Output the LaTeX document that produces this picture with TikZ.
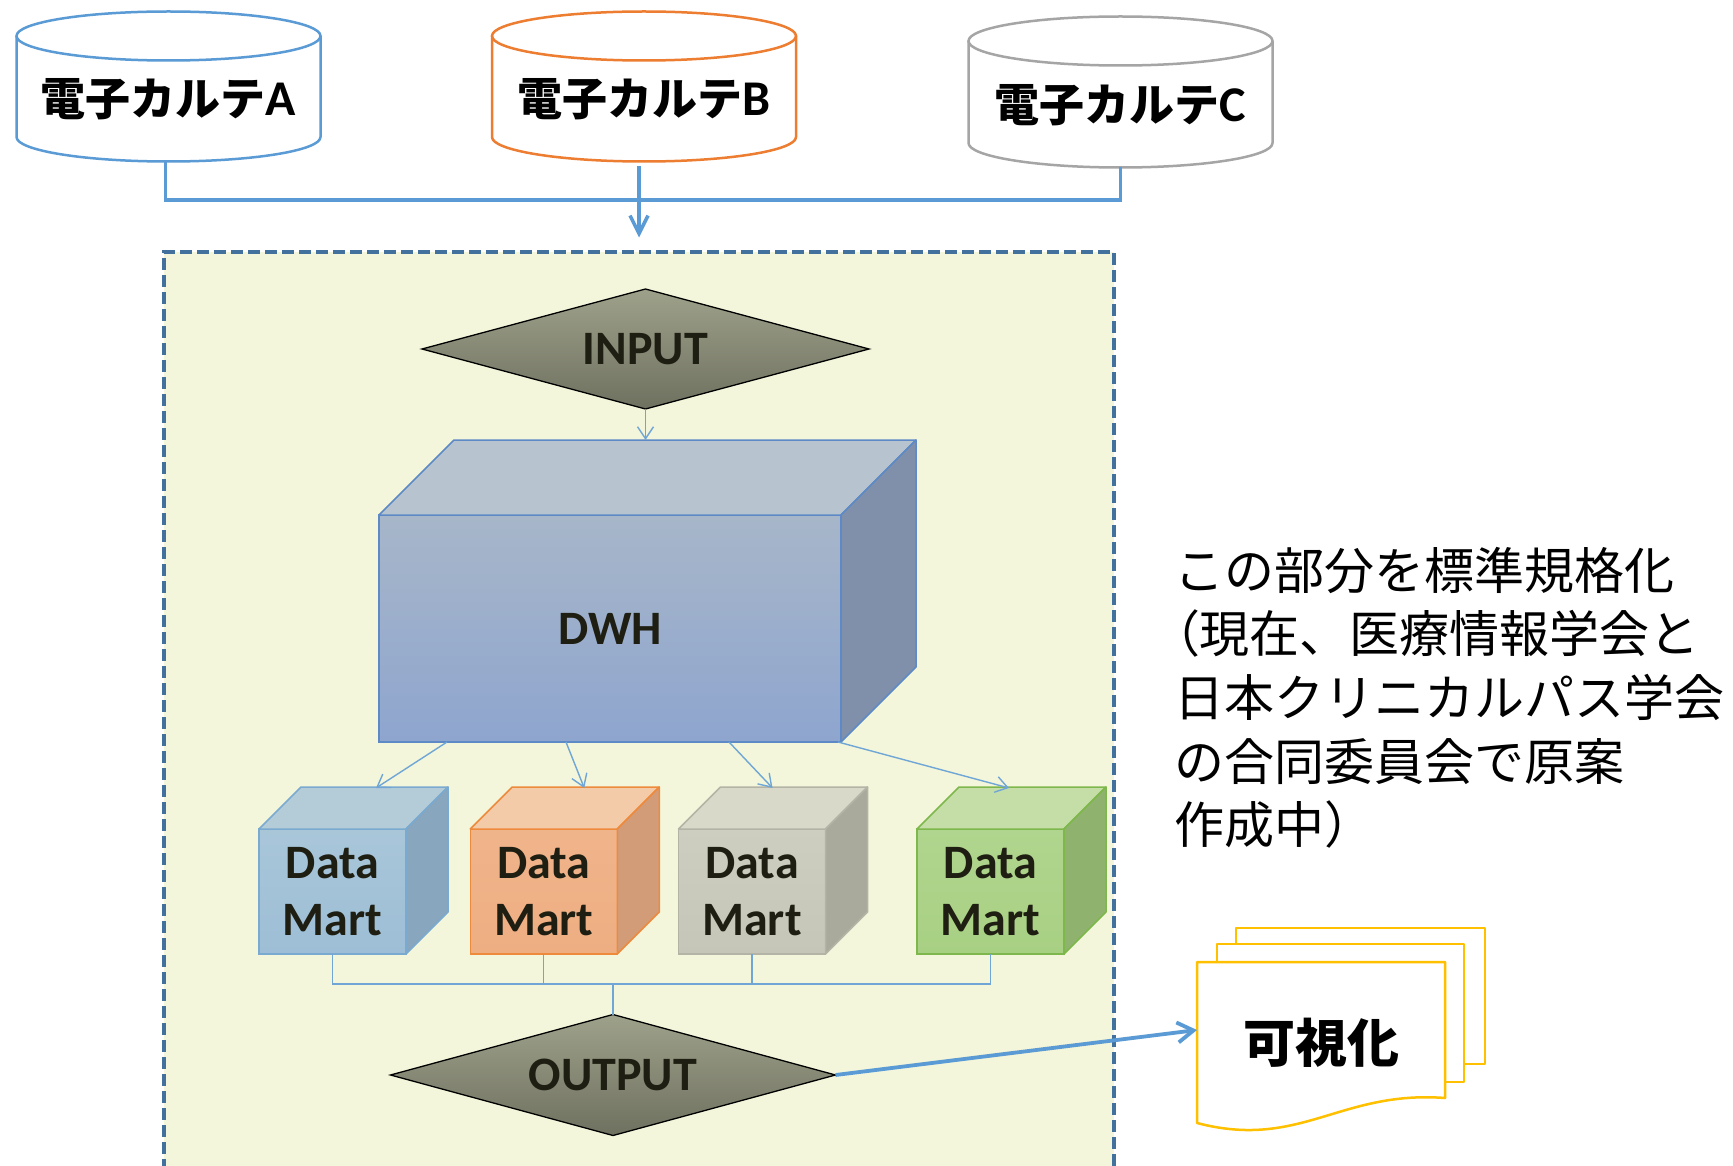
\documentclass[tikz,border=0pt]{standalone}
\usepackage{fontspec}
\setmainfont{Carlito}
\newfontfamily\jpfont{Noto Sans CJK JP}
\usetikzlibrary{arrows.meta,shapes.geometric,calc}

\definecolor{ink}{HTML}{1E1E12}
\definecolor{emrblue}{HTML}{5B9BD5}
\definecolor{emrorange}{HTML}{ED7D31}
\definecolor{emrgray}{HTML}{A5A5A5}
\definecolor{frameblue}{HTML}{41719C}
\definecolor{framefill}{HTML}{F3F6DA}
\definecolor{flowblue}{HTML}{5B9BD5}
\definecolor{thinblue}{HTML}{6FA6D6}
\definecolor{dwhtop}{HTML}{B7C4CF}
\definecolor{dwhfa}{HTML}{A7B6C9}
\definecolor{dwhfb}{HTML}{8EA5CE}
\definecolor{dwhside}{HTML}{8190AA}
\definecolor{dwhedge}{HTML}{5D8AC6}
\definecolor{dmAtop}{HTML}{B4CCD8}
\definecolor{dmAfa}{HTML}{A9C6D9}
\definecolor{dmAfb}{HTML}{9DBED6}
\definecolor{dmAside}{HTML}{88A6BD}
\definecolor{dmAedge}{HTML}{7AAAD0}
\definecolor{dmBtop}{HTML}{F3CBA9}
\definecolor{dmBfa}{HTML}{F0B48B}
\definecolor{dmBfb}{HTML}{EEAE82}
\definecolor{dmBside}{HTML}{D29C79}
\definecolor{dmBedge}{HTML}{EE8A3C}
\definecolor{dmCtop}{HTML}{D8D9C9}
\definecolor{dmCfa}{HTML}{CDCDC0}
\definecolor{dmCfb}{HTML}{C6C6B8}
\definecolor{dmCside}{HTML}{A9A99C}
\definecolor{dmCedge}{HTML}{B3B3A6}
\definecolor{dmDtop}{HTML}{C5DEA7}
\definecolor{dmDfa}{HTML}{B0D58E}
\definecolor{dmDfb}{HTML}{A8D083}
\definecolor{dmDside}{HTML}{90B26F}
\definecolor{dmDedge}{HTML}{7EB74B}
\definecolor{diaA}{HTML}{9EA18A}
\definecolor{diaB}{HTML}{6F7160}
\definecolor{docgold}{HTML}{FFC000}

% database cylinder: name, centre x, top ellipse centre y, bottom ellipse centre y, colour
\newcommand\dbcyl[5]{%
  \node[minimum width=304, minimum height={#4-#3+49}] (#1) at (#2, {(#3+#4)/2}) {};
  \fill[white] (#2-152, #3) -- (#2-152, #4)
    arc[start angle=180, end angle=360, x radius=152pt, y radius=24.5pt] -- (#2+152, #3) -- cycle;
  \draw[draw=#5, line width=2.5] (#2-152, #3) -- (#2-152, #4)
    arc[start angle=180, end angle=360, x radius=152pt, y radius=24.5pt] -- (#2+152, #3);
  \draw[draw=#5, line width=2.5] (#2, #3) ellipse [x radius=152pt, y radius=24.5pt];
}
% top and side faces of a box whose front face is node #1
\newcommand\boxfaces[5]{%
  \filldraw[fill=#3, draw=#5, line width=1.5, line join=round]
    (#1.north west) -- ++(#2,-#2) -- ([shift={(#2,-#2)}]#1.north east) -- (#1.north east) -- cycle;
  \filldraw[fill=#4, draw=#5, line width=1.5, line join=round]
    (#1.north east) -- ++(#2,-#2) -- ([shift={(#2,-#2)}]#1.south east) -- (#1.south east) -- cycle;
}

\begin{document}
\begin{tikzpicture}[x=1pt, y=-1pt,
  every node/.style={inner sep=0pt, outer sep=0pt},
  emrlabel/.style={font=\jpfont\bfseries\fontsize{45}{54}\selectfont, text=black},
  feed/.style={draw=flowblue, line width=3.5},
  feedarrow/.style={feed, -{Straight Barb[length=18pt, width=18pt]}},
  thinflow/.style={draw=thinblue, line width=1.4, -{Straight Barb[length=12pt, width=16pt]}},
  thinlink/.style={draw=thinblue, line width=1.4},
  outarrow/.style={draw=flowblue, line width=3.8, -{Straight Barb[length=16pt, width=20pt]}},
  gate/.style={diamond, draw=black, line width=1.3, top color=diaA, bottom color=diaB,
    font=\bfseries\fontsize{48}{57}\selectfont, text=ink},
  mart/.style={minimum width=147, minimum height=125, line width=1.5, align=center,
    font=\bfseries\fontsize{48}{57}\selectfont, text=ink},
  doc/.style={fill=white, draw=docgold, line width=2.5, line join=round}
]
\useasboundingbox (0,0) rectangle (1733,1166);
\clip (0,0) rectangle (1733,1166);
\fill[white] (0,0) rectangle (1733,1166);

% source record systems
\dbcyl{emrA}{168.5}{36}{137}{emrblue}
\dbcyl{emrB}{644}{36}{137}{emrorange}
\dbcyl{emrC}{1120.5}{41}{143}{emrgray}
\node[emrlabel] at ($(emrA)+(0,13)$) {電子カルテ{\rmfamily\fontsize{50}{54}\selectfont A}};
\node[emrlabel] at ($(emrB)+(0,13)$) {電子カルテ{\rmfamily\fontsize{50}{54}\selectfont B}};
\node[emrlabel] at ($(emrC)+(0,13)$) {電子カルテ{\rmfamily\fontsize{50}{54}\selectfont C}};

% area to be standardised
\node[draw=frameblue, fill=framefill, line width=3.5, dash pattern=on 12pt off 5pt,
      minimum width=950, minimum height=950] (frame) at (638.8, 727) {};

\draw[feed] ([xshift=-3pt]emrA.south) -- ++(0,38.5) -| (emrC.south);
\draw[feedarrow] ([xshift=-5pt, yshift=-5pt]emrB.south) -- ++(0,71);

% input, warehouse, marts, output
\node[gate, aspect=3.725, minimum width=447, minimum height=120] (inp) at (645.5,349) {INPUT};

\node[draw=dwhedge, line width=1.5, top color=dwhfa, bottom color=dwhfb,
      minimum width=462, minimum height=227,
      font=\bfseries\fontsize{48}{57}\selectfont, text=ink] (dwh) at (610,628.5) {DWH};
\boxfaces{dwh}{75}{dwhtop}{dwhside}{dwhedge}
\coordinate (dwhback) at ([shift={(75,-75)}]dwh.north west);
\draw[thinflow] (inp.south) -- (inp.south |- dwhback);

\node[mart, draw=dmAedge, top color=dmAfa, bottom color=dmAfb] (dm1) at (332.5,891.5) {Data\\Mart};
\node[mart, draw=dmBedge, top color=dmBfa, bottom color=dmBfb] (dm2) at (543.75,891.5) {Data\\Mart};
\node[mart, draw=dmCedge, top color=dmCfa, bottom color=dmCfb] (dm3) at (752,891.5) {Data\\Mart};
\node[mart, draw=dmDedge, top color=dmDfa, bottom color=dmDfb] (dm4) at (990.5,891.5) {Data\\Mart};
\boxfaces{dm1}{42}{dmAtop}{dmAside}{dmAedge}
\boxfaces{dm2}{42}{dmBtop}{dmBside}{dmBedge}
\boxfaces{dm3}{42}{dmCtop}{dmCside}{dmCedge}
\boxfaces{dm4}{42}{dmDtop}{dmDside}{dmDedge}

\draw[thinflow] ($(dwh.south west)+(68,0)$) -- ($(dm1.north west)+(117,-41)$);
\draw[thinflow] ($(dwh.south west)+(187,0)$) -- ($(dm2.north west)+(114,-41)$);
\draw[thinflow] ($(dwh.south west)+(350,0)$) -- ($(dm3.north west)+(94,-41)$);
\draw[thinflow] ($(dwh.south east)+(-3,0)$) -- ($(dm4.north west)+(92,-41)$);

\node[gate, aspect=3.68, minimum width=445, minimum height=121] (outp) at (613,1075) {OUTPUT};

\draw[thinlink] (dm1.south) -- ++(0,30) -| (dm4.south);
\draw[thinlink] (dm2.south) -- ++(0,30);
\draw[thinlink] (dm3.south) -- ++(0,30);
\draw[thinlink] (outp.north) -- ++(0,-31);

% visualisation documents
\filldraw[doc] (1236,928) rectangle (1485,1064);
\filldraw[doc] (1217,944) rectangle (1464,1082);
\filldraw[doc] (1197,962) -- (1445,962) -- (1445,1098)
  .. controls (1340,1090) and (1300,1150) .. (1197,1123) -- cycle;
\node[minimum width=248, minimum height=136] (vis) at (1321,1030) {};
\node[font=\jpfont\bfseries\fontsize{52}{60}\selectfont] at ($(vis)+(0,13)$) {可視化};
\draw[outarrow] (outp.east) -- (vis.west);

% note
\node[anchor=north west, align=left, font=\jpfont\fontsize{50}{63.6}\selectfont] (note) at (1174,547)
  {この部分を標準規格化\\{\addfontfeature{RawFeature=+palt}（}現在、医療情報学会と\\日本クリニカルパス学会\\の合同委員会で原案\\作成中）};
\end{tikzpicture}
\end{document}
